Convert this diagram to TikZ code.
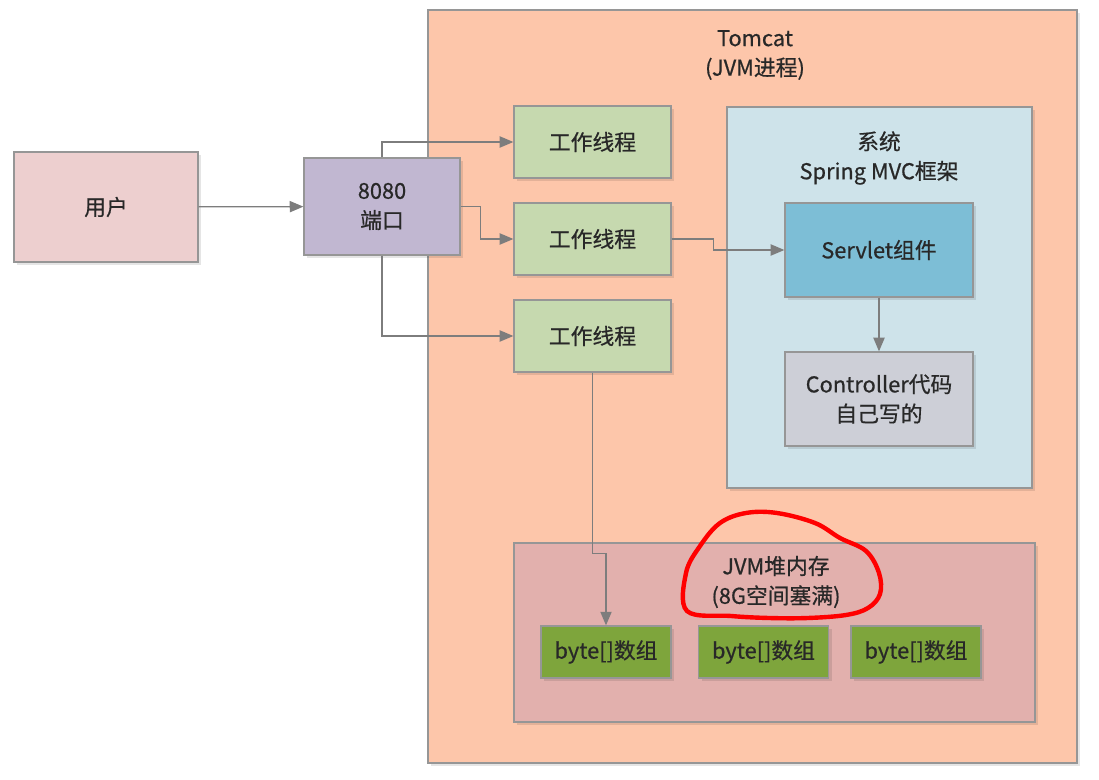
\documentclass[tikz,border=0pt]{standalone}
\usepackage{fontspec}
\setmainfont{Noto Sans CJK SC}
\newfontfamily\diagfont{Noto Sans CJK SC}[FakeBold=0.6]
\usetikzlibrary{arrows.meta,shadows}
\definecolor{tomcatfill}{RGB}{253,198,170}
\definecolor{userfill}{RGB}{237,207,207}
\definecolor{portfill}{RGB}{193,183,209}
\definecolor{threadfill}{RGB}{198,217,175}
\definecolor{springfill}{RGB}{206,227,234}
\definecolor{servletfill}{RGB}{125,190,214}
\definecolor{ctrlfill}{RGB}{205,207,215}
\definecolor{heapfill}{RGB}{226,176,173}
\definecolor{bytefill}{RGB}{126,165,60}
\definecolor{boxline}{RGB}{150,150,150}
\definecolor{arrline}{RGB}{125,125,125}
\definecolor{txt}{RGB}{40,40,40}

\begin{document}
\begin{tikzpicture}[x=0.025cm,y=-0.025cm,
        lbl/.style={align=center,text=txt,font=\diagfont\fontsize{15.5}{21}\selectfont},
        box/.style={lbl,draw=boxline,line width=0.9pt,inner sep=0pt,
            drop shadow={shadow xshift=0.08cm,shadow yshift=-0.08cm,fill=black,opacity=0.1}},
        thread/.style={box,fill=threadfill,minimum width=3.925cm,minimum height=1.8cm},
        bytearr/.style={box,fill=bytefill,minimum width=3.25cm,minimum height=1.3cm},
        inner/.style={box,minimum width=4.7cm,minimum height=2.35cm},
        arr/.style={draw=arrline,line width=0.9pt,-{Triangle[length=0.34cm,width=0.28cm]}}]
            \useasboundingbox (0,0) rectangle (1099,780);
            \node[box,fill=tomcatfill,minimum width=16.225cm,minimum height=18.825cm] (tomcat) at (752.5,386.5) {};
            \node[lbl] (tomcatlbl) at (755,55) {Tomcat\\(JVM进程)};
            \node[box,fill=userfill,minimum width=4.6cm,minimum height=2.75cm] (user) at (106,207) {用户};
            \node[box,fill=portfill,minimum width=3.9cm,minimum height=2.425cm] (port) at (382,206.5) {8080\\端口};
            \foreach \n/\y in {1/142, 2/239, 3/336}{
                \node[thread] (t\n) at (592.5,\y) {工作线程};
            }
            \node[box,fill=springfill,minimum width=7.625cm,minimum height=9.525cm] (spring) at (879.5,297.5) {};
            \node[lbl] (springlbl) at (879,158) {系统\\Spring MVC框架};
            \node[inner,fill=servletfill] (servlet) at (879,250) {Servlet组件};
            \node[inner,fill=ctrlfill] (ctrl) at (879,399) {Controller代码\\自己写的};
            \node[box,fill=heapfill,minimum width=13.025cm,minimum height=4.475cm] (heap) at (774.5,632.5) {};
            \node[lbl] (heaplbl) at (776,582) {JVM堆内存\\(8G空间塞满)};
            \foreach \n/\x in {1/606, 2/763.5, 3/916}{
                \node[bytearr] (b\n) at (\x,652) {byte[]数组};
            }
            \draw[arr] (user) -- (port);
            \draw[arr] (port.north) |- (t1);
            \draw[arr] (port.east) -- ++(20,0) |- (t2);
            \draw[arr] (port.south) |- (t3);
            \draw[arr] (t2.east) -- ++(42,0) |- (servlet);
            \draw[arr] (servlet) -- (ctrl);
            \draw[arr] (t3.south) -- ++(0,181) -| (b1.north);
            \draw[red,line width=0.11cm,line cap=round] plot[smooth cycle,tension=0.6] coordinates {
                (687,611) (686,573) (700,546) (720,523) (746,513) (777,513) (815,523)
                (840,538) (866,551) (879,573) (880,594) (868,608) (846,615) (808,618)
                (769,618) (731,616)};
        \end{tikzpicture}
\end{document}
